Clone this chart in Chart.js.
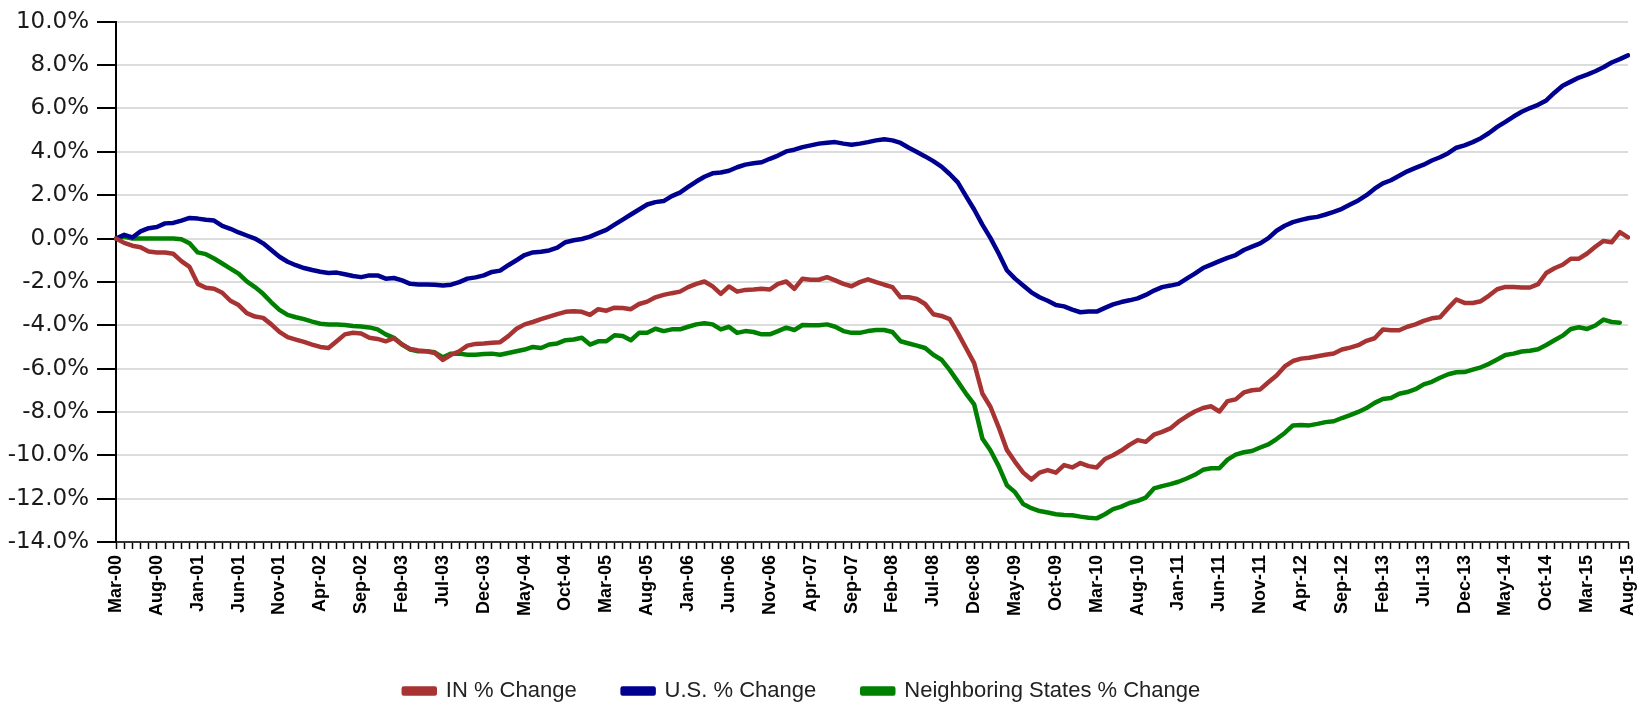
<!DOCTYPE html>
<html>
<head>
<meta charset="utf-8">
<script src="https://cdn.jsdelivr.net/npm/chart.js@4.4.0/dist/chart.umd.min.js"></script>
<style>
	body { margin: 0; background: #fff; }
	#wrap { width: 1648px; height: 704px; }
</style>
</head>
<body>
<div id="wrap"><canvas id="hpiChart" width="1648" height="704"></canvas></div>
<script>
// month names used to build the category labels (Mar-00 ... Aug-15)
const monthNames = ['Jan','Feb','Mar','Apr','May','Jun','Jul','Aug','Sep','Oct','Nov','Dec'];
const firstYear = 2000;
const firstMonth = 2; // March
const labelEvery = 5;

const seriesNames = ['IN % Change', 'U.S. % Change', 'Neighboring States % Change'];
const seriesColors = ['#A83333', '#000090', '#008000'];

// values, one per month, in %
const inChange = [
	0.0, -0.2, -0.33, -0.4, -0.6, -0.64, -0.64, -0.7, -1.04, -1.31,
	-2.09, -2.27, -2.32, -2.5, -2.87, -3.07, -3.44, -3.6, -3.66, -3.96,
	-4.31, -4.55, -4.66, -4.77, -4.89, -5.0, -5.05, -4.74, -4.42, -4.35,
	-4.38, -4.58, -4.63, -4.74, -4.6, -4.89, -5.09, -5.16, -5.2, -5.28,
	-5.6, -5.36, -5.2, -4.94, -4.86, -4.84, -4.81, -4.78, -4.5, -4.16,
	-3.96, -3.85, -3.72, -3.6, -3.49, -3.38, -3.35, -3.38, -3.52, -3.26,
	-3.33, -3.19, -3.2, -3.26, -3.02, -2.91, -2.71, -2.6, -2.52, -2.45,
	-2.24, -2.09, -1.98, -2.21, -2.55, -2.21, -2.45, -2.37, -2.35, -2.32,
	-2.35, -2.09, -1.98, -2.32, -1.85, -1.9, -1.9, -1.78, -1.93, -2.09,
	-2.2, -2.01, -1.88, -2.01, -2.13, -2.24, -2.71, -2.71, -2.79, -3.02,
	-3.49, -3.57, -3.72, -4.35, -5.05, -5.75, -7.15, -7.77, -8.71, -9.75,
	-10.3, -10.8, -11.12, -10.8, -10.68, -10.8, -10.45, -10.56, -10.36, -10.5,
	-10.56, -10.17, -10.0, -9.78, -9.52, -9.3, -9.38, -9.05, -8.92, -8.76,
	-8.45, -8.2, -7.98, -7.82, -7.74, -7.98, -7.5, -7.42, -7.1, -7.0,
	-6.96, -6.63, -6.32, -5.9, -5.65, -5.54, -5.5, -5.43, -5.36, -5.3,
	-5.12, -5.03, -4.92, -4.72, -4.6, -4.2, -4.23, -4.23, -4.07, -3.96,
	-3.8, -3.68, -3.63, -3.21, -2.81, -2.97, -2.97, -2.89, -2.63, -2.34,
	-2.23, -2.23, -2.26, -2.26, -2.1, -1.59, -1.37, -1.21, -0.93, -0.93,
	-0.69, -0.38, -0.11, -0.17, 0.3, 0.05
];

const usChange = [
	0.0, 0.17, 0.05, 0.33, 0.48, 0.53, 0.7, 0.72, 0.83, 0.95,
	0.92, 0.87, 0.83, 0.58, 0.45, 0.28, 0.14, 0.0, -0.22, -0.53,
	-0.84, -1.07, -1.23, -1.36, -1.45, -1.53, -1.59, -1.57, -1.65, -1.73,
	-1.78, -1.7, -1.7, -1.85, -1.82, -1.93, -2.09, -2.12, -2.12, -2.13,
	-2.17, -2.13, -2.01, -1.85, -1.79, -1.7, -1.54, -1.48, -1.23, -1.0,
	-0.76, -0.64, -0.61, -0.55, -0.42, -0.17, -0.08, -0.02, 0.09, 0.25,
	0.4, 0.64, 0.87, 1.11, 1.34, 1.57, 1.68, 1.73, 1.96, 2.12,
	2.38, 2.63, 2.85, 3.01, 3.05, 3.13, 3.29, 3.41, 3.47, 3.52,
	3.68, 3.83, 4.02, 4.1, 4.22, 4.3, 4.38, 4.42, 4.45, 4.38,
	4.33, 4.38, 4.45, 4.53, 4.58, 4.53, 4.41, 4.19, 3.99, 3.79,
	3.57, 3.32, 2.98, 2.59, 1.96, 1.34, 0.64, 0.02, -0.69, -1.46,
	-1.85, -2.17, -2.48, -2.71, -2.87, -3.07, -3.13, -3.28, -3.4, -3.37,
	-3.37, -3.2, -3.04, -2.93, -2.85, -2.76, -2.6, -2.4, -2.24, -2.17,
	-2.09, -1.85, -1.62, -1.36, -1.2, -1.04, -0.89, -0.76, -0.53, -0.37,
	-0.22, 0.02, 0.36, 0.59, 0.76, 0.86, 0.95, 1.0, 1.11, 1.23,
	1.37, 1.57, 1.76, 2.0, 2.3, 2.55, 2.69, 2.9, 3.1, 3.26,
	3.41, 3.6, 3.75, 3.94, 4.19, 4.3, 4.45, 4.63, 4.87, 5.15,
	5.38, 5.63, 5.85, 6.02, 6.17, 6.37, 6.73, 7.05, 7.24, 7.43,
	7.56, 7.72, 7.9, 8.12, 8.28, 8.45
];

const neighborChange = [
	0.0, 0.08, 0.0, 0.0, 0.0, 0.0, 0.0, 0.0, -0.03, -0.22,
	-0.64, -0.72, -0.92, -1.15, -1.39, -1.62, -1.98, -2.24, -2.55, -2.94,
	-3.29, -3.52, -3.63, -3.72, -3.83, -3.93, -3.96, -3.96, -3.99, -4.03,
	-4.06, -4.1, -4.19, -4.42, -4.58, -4.89, -5.12, -5.2, -5.2, -5.25,
	-5.48, -5.31, -5.31, -5.36, -5.36, -5.33, -5.31, -5.36, -5.28, -5.2,
	-5.12, -5.0, -5.05, -4.89, -4.84, -4.69, -4.66, -4.58, -4.89, -4.74,
	-4.74, -4.46, -4.5, -4.69, -4.35, -4.35, -4.16, -4.27, -4.19, -4.19,
	-4.07, -3.96, -3.91, -3.96, -4.19, -4.07, -4.35, -4.27, -4.31, -4.42,
	-4.42, -4.27, -4.11, -4.22, -3.99, -4.0, -4.0, -3.96, -4.07, -4.27,
	-4.35, -4.35, -4.27, -4.22, -4.22, -4.31, -4.74, -4.84, -4.94, -5.05,
	-5.36, -5.59, -6.06, -6.6, -7.15, -7.65, -9.22, -9.78, -10.5, -11.38,
	-11.7, -12.25, -12.44, -12.57, -12.64, -12.72, -12.75, -12.77, -12.83, -12.88,
	-12.91, -12.72, -12.48, -12.37, -12.2, -12.1, -11.95, -11.53, -11.42, -11.33,
	-11.22, -11.07, -10.9, -10.67, -10.6, -10.6, -10.2, -9.97, -9.86, -9.8,
	-9.64, -9.5, -9.25, -8.97, -8.62, -8.6, -8.62, -8.55, -8.47, -8.43,
	-8.28, -8.15, -8.0, -7.82, -7.58, -7.4, -7.36, -7.16, -7.08, -6.95,
	-6.73, -6.61, -6.42, -6.26, -6.17, -6.16, -6.05, -5.94, -5.78, -5.58,
	-5.37, -5.31, -5.21, -5.18, -5.11, -4.91, -4.69, -4.48, -4.17, -4.09,
	-4.17, -4.01, -3.74, -3.85, -3.88, null
];

const labels = [];
for (let i = 0; i < usChange.length; i++) {
	const m = firstMonth + i;
	const yy = (firstYear + Math.floor(m / 12)) % 100;
	labels.push(monthNames[m % 12] + '-' + String(yy).padStart(2, '0'));
}

const makeLine = (name, data, color) => {
	return {
		label: name,
		data: data,
		borderColor: color,
		backgroundColor: color,
		borderWidth: 4.5,
		pointRadius: 0,
		tension: 0,
		borderJoinStyle: 'round',
		borderCapStyle: 'round'
	}
}

// the legend in the picture sits a little left of the centre
const legendShift = {
	id: 'legendShift',
	afterLayout: chart => {
		chart.legend.left -= 22;
		chart.legend.right -= 22;
	}
}

new Chart(
	document.getElementById('hpiChart'),
	{
		type: 'line',
		data: {
			labels: labels,
			datasets: [
				makeLine(seriesNames[0], inChange, seriesColors[0]),
				makeLine(seriesNames[1], usChange, seriesColors[1]),
				makeLine(seriesNames[2], neighborChange, seriesColors[2])
			]
		},
		plugins: [legendShift],
		options: {
			responsive: false,
			animation: false,
			devicePixelRatio: 1,
			layout: {
				padding: { top: 20, right: 0, bottom: -8, left: 0 }
			},
			plugins: {
				tooltip: { enabled: false },
				legend: {
					position: 'bottom',
					labels: {
						boxWidth: 31,
						boxHeight: 5,
						padding: 46,
						color: '#222',
						font: { family: 'Liberation Sans', size: 22 }
					}
				}
			},
			scales: {
				x: {
					ticks: {
						autoSkip: false,
						maxRotation: 90,
						minRotation: 90,
						padding: 6,
						color: '#000',
						font: { family: 'Liberation Sans', size: 18, weight: 'bold' },
						callback: (v, i) => i % labelEvery === 0 ? labels[i] : ''
					},
					grid: {
						drawOnChartArea: false,
						tickColor: '#000',
						tickLength: 7,
						tickWidth: 1.5
					},
					border: { color: '#333', width: 2 },
					afterFit: s => { s.height = 92; s.paddingRight = 20; }
				},
				y: {
					min: -14,
					max: 10,
					ticks: {
						stepSize: 2,
						padding: 8,
						color: '#1a1a1a',
						font: { family: 'DejaVu Sans', size: 23 },
						callback: v => v.toFixed(1) + '%'
					},
					grid: {
						color: '#dcdcdc',
						lineWidth: 2,
						tickColor: '#000',
						tickLength: 19,
						tickWidth: 2
					},
					border: { color: '#000', width: 2 },
					afterFit: s => { s.width = 116; }
				}
			}
		}
	}
);
</script>
</body>
</html>
